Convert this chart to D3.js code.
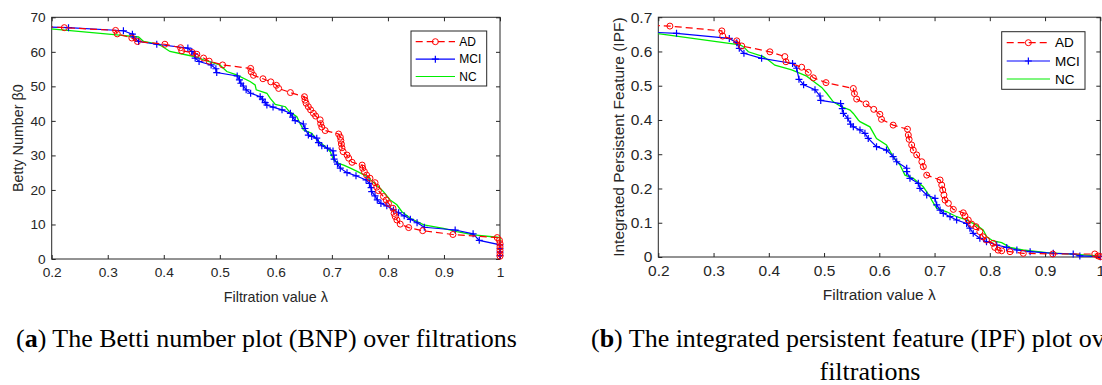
<!DOCTYPE html>
<html><head><meta charset="utf-8">
<script src="https://cdn.jsdelivr.net/npm/d3@7"></script>
<style>body{margin:0;background:#fff;} svg{display:block;}</style>
</head><body><svg id="c" width="1102" height="385"></svg>
<script>
// ---------- data ----------
const seriesNames = ["AD", "MCI", "NC"];
const xTicks = [0.2, 0.3, 0.4, 0.5, 0.6, 0.7, 0.8, 0.9, 1.0];
const xTickLabels = ["0.2", "0.3", "0.4", "0.5", "0.6", "0.7", "0.8", "0.9", "1"];
const bnpYTicks = [0, 10, 20, 30, 40, 50, 60, 70];
const bnpYTickLabels = ["0", "10", "20", "30", "40", "50", "60", "70"];
const ipfYTicks = [0, 0.1, 0.2, 0.3, 0.4, 0.5, 0.6, 0.7];
const ipfYTickLabels = ["0", "0.1", "0.2", "0.3", "0.4", "0.5", "0.6", "0.7"];

// (a) Betti number plot
const bnpAD_x = [0.19,0.2225,0.314,0.317,0.343,0.353,0.402,0.430,0.432,0.451,0.459,0.471,0.481,0.505,0.555,0.556,0.560,0.577,0.591,0.601,0.605,0.626,0.651,0.652,0.654,0.658,0.662,0.667,0.671,0.679,0.680,0.682,0.688,0.712,0.715,0.716,0.717,0.718,0.720,0.727,0.730,0.736,0.754,0.755,0.758,0.762,0.768,0.777,0.780,0.783,0.792,0.797,0.801,0.809,0.811,0.813,0.816,0.822,0.837,0.862,0.916,0.995,0.999,1.0,1.0,1.0,1.0,1.0];
const bnpAD_y = [67.3,67,66.2,65.2,64,63,62.2,61.2,60.3,59.8,59.3,58.2,57.3,56.2,55.2,54.2,53.2,52.2,51.3,50.3,49.4,48.2,47,46,45.1,44.1,43.2,42.2,41.4,40.3,39.2,38.2,37.2,36.2,35.3,34.3,33.3,32.2,31.1,30.1,29.2,28,27.2,26.3,25.3,24.3,23.4,22.1,20.8,19.8,18.1,17.1,16.1,14.7,13.2,12.3,11.3,10.1,9.1,8.2,7.1,6.2,5.4,4.5,3.5,2.5,1.5,0.8];
const bnpMCI_x = [0.19,0.23,0.328,0.344,0.346,0.355,0.3875,0.443,0.45,0.455,0.456,0.463,0.4845,0.493,0.4945,0.531,0.535,0.5375,0.542,0.547,0.555,0.572,0.576,0.581,0.584,0.595,0.611,0.626,0.630,0.6345,0.649,0.652,0.658,0.664,0.673,0.676,0.682,0.692,0.702,0.703,0.704,0.710,0.715,0.727,0.743,0.761,0.767,0.770,0.771,0.777,0.781,0.7875,0.798,0.810,0.819,0.829,0.840,0.852,0.865,0.920,0.952,0.963,1.0,1.0,1.0,1.0];
const bnpMCI_y = [67.2,67,66.1,65.1,64.3,63,62.2,61.1,60.1,59.4,58.2,57.2,56.2,55.1,54,53,51.9,50.9,50.1,49,48,47,46.3,45.3,44.6,44,43.2,42.2,41.1,40.1,39.1,37.8,35.9,35.5,35,33.7,32.8,32.1,31.3,30.1,28.9,27.5,26.3,25,24.1,22.9,21.9,20.7,19.5,18.3,17.1,16.1,15.4,14.2,13.4,12.5,11.5,10.5,9.2,8.4,7.3,5.4,4.1,3,2,1];
const bnpNC_x = [0.19,0.316,0.355,0.364,0.387,0.396,0.411,0.435,0.459,0.471,0.5,0.5125,0.530,0.554,0.563,0.565,0.584,0.590,0.599,0.617,0.624,0.6375,0.643,0.649,0.664,0.673,0.688,0.697,0.703,0.712,0.721,0.733,0.746,0.7625,0.776,0.786,0.792,0.804,0.816,0.825,0.840,0.864,0.899,0.923,0.953,0.995,1.0,1.0];
const bnpNC_y = [66.8,64.9,64.3,63,62.3,61.7,60.1,59.3,58.5,57.7,56.2,54.3,53.3,51.4,50.4,49,48,46.5,44.8,44.1,42.7,41.2,39.3,37.4,36.4,34.5,32.6,31.1,28.7,27.7,27.2,26.3,25.3,23.9,21.9,20.5,19.5,17.1,15.7,13.7,11.8,9.9,8.9,7.9,7.0,6.3,6.2,1];

// (b) Integrated persistent feature plot
const ipfAD_x = [0.19,0.221,0.315,0.3166,0.342,0.351,0.402,0.429,0.431,0.4595,0.4715,0.4806,0.5035,0.553,0.555,0.559,0.576,0.590,0.601,0.604,0.625,0.651,0.6525,0.654,0.6586,0.6615,0.6677,0.677,0.6797,0.6858,0.710,0.713,0.7148,0.717,0.719,0.725,0.734,0.752,0.755,0.761,0.767,0.775,0.782,0.788,0.794,0.806,0.809,0.815,0.8215,0.8366,0.8606,0.914,0.990,0.996,1.0];
const ipfAD_y = [0.676,0.674,0.660,0.645,0.631,0.616,0.599,0.585,0.570,0.554,0.539,0.523,0.509,0.492,0.477,0.461,0.447,0.431,0.4165,0.402,0.385,0.373,0.356,0.3435,0.327,0.312,0.298,0.278,0.2636,0.239,0.2248,0.21,0.1956,0.181,0.166,0.1567,0.139,0.129,0.12,0.108,0.096,0.0885,0.074,0.059,0.0496,0.040,0.028,0.020,0.018,0.0155,0.0108,0.0088,0.0088,0.003,0.001];
const ipfMCI_x = [0.19,0.233,0.3285,0.342,0.3466,0.355,0.387,0.443,0.4505,0.4546,0.463,0.4836,0.4927,0.494,0.530,0.533,0.535,0.543,0.548,0.553,0.565,0.574,0.580,0.595,0.613,0.625,0.6315,0.6496,0.6496,0.6555,0.6706,0.6736,0.6858,0.7008,0.7039,0.7100,0.7158,0.728,0.740,0.758,0.764,0.770,0.782,0.794,0.8125,0.8306,0.849,0.873,0.915,0.951,0.963,1.0];
const ipfMCI_y = [0.656,0.653,0.638,0.6256,0.609,0.5945,0.580,0.565,0.551,0.5187,0.503,0.488,0.47,0.457,0.448,0.433,0.419,0.405,0.388,0.380,0.371,0.361,0.346,0.322,0.312,0.293,0.278,0.259,0.249,0.2297,0.215,0.2005,0.181,0.1713,0.152,0.137,0.1276,0.1176,0.108,0.098,0.084,0.069,0.0545,0.0447,0.035,0.028,0.0204,0.0155,0.0108,0.0088,0.003,0.001];
const ipfNC_x = [0.19,0.348,0.354,0.363,0.390,0.399,0.411,0.4415,0.4686,0.4806,0.4957,0.5048,0.5167,0.5289,0.547,0.553,0.562,0.565,0.583,0.595,0.613,0.625,0.6375,0.6465,0.6615,0.6796,0.6918,0.6948,0.704,0.722,0.740,0.758,0.776,0.788,0.7945,0.806,0.8215,0.8366,0.860,0.903,0.963,0.996,1.0];
const ipfNC_y = [0.654,0.619,0.614,0.599,0.585,0.575,0.560,0.546,0.528,0.513,0.495,0.478,0.453,0.4407,0.429,0.419,0.400,0.395,0.380,0.346,0.327,0.293,0.2685,0.239,0.2297,0.205,0.176,0.166,0.142,0.132,0.1176,0.108,0.093,0.079,0.059,0.0467,0.0418,0.028,0.0204,0.0126,0.0067,0.003,0.001];

const captionA = ["a", " The Betti number plot (BNP) over filtrations"];
const captionB = ["b", " The integrated persistent feature (IPF) plot over", "filtrations"];

// ---------- styles ----------
const colors = {AD: "#ff0000", MCI: "#0000ff", NC: "#00ee00"};
const axisColor = "#262626";
const sans = "'Liberation Sans', Arial, Helvetica, sans-serif";

const svg = d3.select("#c");

const panels = [
  {id: "a", box: {l: 51.7, r: 500, t: 17.3, b: 259}, yDomain: [0, 70], yTicks: bnpYTicks, yLabels: bnpYTickLabels,
   ylabel: "Betty Number β0", ylabelX: 18, tickFont: 13.7, labelFont: 14.3, legFont: 12,
   legend: {l: 411, r: 486.7, t: 31, b: 86, lx0: 415.7, lx1: 455, tx: 459.3, rows: [41.7, 59.2, 76.5]},
   series: [
     {name: "AD", x: bnpAD_x, y: bnpAD_y},
     {name: "MCI", x: bnpMCI_x, y: bnpMCI_y},
     {name: "NC", x: bnpNC_x, y: bnpNC_y}]},
  {id: "b", box: {l: 658.3, r: 1100.3, t: 17.2, b: 257}, yDomain: [0, 0.7], yTicks: ipfYTicks, yLabels: ipfYTickLabels,
   ylabel: "Integrated Persistent Feature (IPF)", ylabelX: 618, tickFont: 15.5, labelFont: 15.5, legFont: 13.5,
   legend: {l: 1001.7, r: 1085, t: 31.7, b: 89.3, lx0: 1006.7, lx1: 1050, tx: 1055, rows: [42.7, 61, 79]},
   series: [
     {name: "AD", x: ipfAD_x, y: ipfAD_y},
     {name: "MCI", x: ipfMCI_x, y: ipfMCI_y},
     {name: "NC", x: ipfNC_x, y: ipfNC_y}]}
];

function drawMarker(g, name, cx, cy) {
  if (name === "AD") {
    g.append("circle").attr("cx", cx).attr("cy", cy).attr("r", 3)
      .attr("fill", "none").attr("stroke", colors.AD).attr("stroke-width", 1);
  } else if (name === "MCI") {
    g.append("path").attr("d", `M${cx-3.5},${cy}H${cx+3.5}M${cx},${cy-3.5}V${cy+3.5}`)
      .attr("stroke", colors.MCI).attr("stroke-width", 1.2).attr("fill", "none");
  }
}

panels.forEach(p => {
  const {l, r, t, b} = p.box;
  const x = d3.scaleLinear().domain([0.2, 1]).range([l, r]);
  const y = d3.scaleLinear().domain(p.yDomain).range([b, t]);
  const g = svg.append("g");

  g.append("clipPath").attr("id", "clip-" + p.id)
    .append("rect").attr("x", l).attr("y", t - 4).attr("width", r - l + 4).attr("height", b - t + 8);

  const fmtX = (d, i) => xTickLabels[i];
  const fmtY = (d, i) => p.yLabels[i];
  const axB = g.append("g").attr("transform", `translate(0,${b})`)
    .call(d3.axisBottom(x).tickValues(xTicks).tickFormat(fmtX).tickSizeInner(-4).tickSizeOuter(0).tickPadding(8));
  const axT = g.append("g").attr("transform", `translate(0,${t})`)
    .call(d3.axisTop(x).tickValues(xTicks).tickFormat("").tickSizeInner(-4).tickSizeOuter(0));
  const axL = g.append("g").attr("transform", `translate(${l},0)`)
    .call(d3.axisLeft(y).tickValues(p.yTicks).tickFormat(fmtY).tickSizeInner(-4).tickSizeOuter(0).tickPadding(6));
  const axR = g.append("g").attr("transform", `translate(${r},0)`)
    .call(d3.axisRight(y).tickValues(p.yTicks).tickFormat("").tickSizeInner(-4).tickSizeOuter(0));
  [axB, axT, axL, axR].forEach(a => {
    a.select(".domain").remove();
    a.selectAll("line").attr("stroke", axisColor).attr("stroke-width", 1);
    a.selectAll("text").attr("fill", axisColor).style("font-family", sans).style("font-size", p.tickFont + "px");
  });
  g.append("rect").attr("x", l).attr("y", t).attr("width", r - l).attr("height", b - t)
    .attr("fill", "none").attr("stroke", axisColor).attr("stroke-width", 1);

  g.append("text").attr("x", (l + r) / 2).attr("y", b + 43).attr("text-anchor", "middle")
    .attr("fill", axisColor).style("font-family", sans).style("font-size", p.labelFont + "px")
    .text("Filtration value λ");
  g.append("text").attr("transform", `translate(${p.ylabelX},${(t + b) / 2}) rotate(-90)`)
    .attr("text-anchor", "middle").attr("dominant-baseline", "central")
    .attr("fill", axisColor).style("font-family", sans).style("font-size", p.labelFont + "px")
    .text(p.ylabel);

  const plot = g.append("g").attr("clip-path", `url(#clip-${p.id})`);
  ["NC", "MCI", "AD"].forEach(name => {
    const s = p.series.find(d => d.name === name);
    const pts = s.x.map((xv, i) => [xv, s.y[i]]);
    const line = d3.line().x(d => x(d[0])).y(d => y(d[1]));
    plot.append("path").attr("d", line(pts)).attr("fill", "none")
      .attr("stroke", colors[name]).attr("stroke-width", name === "NC" ? 1.3 : 1.2)
      .attr("stroke-dasharray", name === "AD" ? "7,4" : null);
    pts.forEach(d => drawMarker(plot, name, x(d[0]), y(d[1])));
  });

  const L = p.legend;
  const lg = g.append("g");
  lg.append("rect").attr("x", L.l).attr("y", L.t).attr("width", L.r - L.l).attr("height", L.b - L.t)
    .attr("fill", "#fff").attr("stroke", axisColor).attr("stroke-width", 1);
  seriesNames.forEach((name, i) => {
    const yy = L.rows[i];
    lg.append("line").attr("x1", L.lx0).attr("x2", L.lx1).attr("y1", yy).attr("y2", yy)
      .attr("stroke", colors[name]).attr("stroke-width", 1.2)
      .attr("stroke-dasharray", name === "AD" ? "7,4" : null);
    drawMarker(lg, name, (L.lx0 + L.lx1) / 2, yy);
    lg.append("text").attr("x", L.tx).attr("y", yy).attr("dominant-baseline", "central")
      .attr("fill", "#000").style("font-family", sans).style("font-size", p.legFont + "px").text(name);
  });
});

// captions
const serif = "'Liberation Serif', 'Times New Roman', serif";
const capFont = 19;
function caption(xp, yp, parts) {
  const t = svg.append("text").attr("x", xp).attr("y", yp).attr("fill", "#000")
    .style("font-family", serif).style("font-size", capFont + "px");
  t.append("tspan").text("(");
  t.append("tspan").attr("font-weight", "bold").text(parts[0]);
  t.append("tspan").text(")" + parts[1]);
  return t;
}
const capA = caption(16, 347, captionA);
const wA = capA.node().getComputedTextLength();
const capSize = capFont * 501 / wA;
capA.style("font-size", capSize + "px");
const capB = caption(591, 347, captionB);
capB.style("font-size", capSize + "px");
svg.append("text").attr("x", 870).attr("y", 380).attr("text-anchor", "middle").attr("fill", "#000")
  .style("font-family", serif).style("font-size", capSize + "px").text(captionB[2]);
</script>
</body></html>
